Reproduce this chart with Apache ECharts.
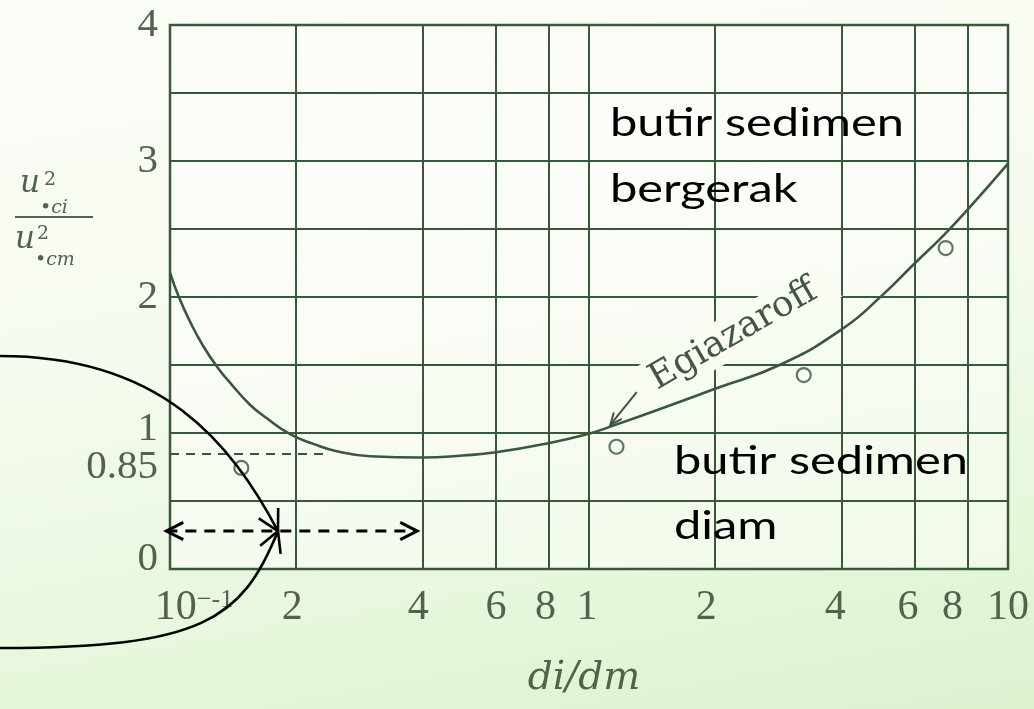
<!DOCTYPE html>
<html>
<head>
<meta charset="utf-8">
<script src="https://cdn.jsdelivr.net/npm/echarts@6/dist/echarts.min.js"></script>
<style>
  html, body { margin: 0; padding: 0; width: 1034px; height: 709px; overflow: hidden; }
  body { background: linear-gradient(170deg, #fbfdf7 0%, #f6fbf0 40%, #e8f7dd 75%, #dcf2cf 100%); }
  #chart { width: 1034px; height: 709px; }
</style>
</head>
<body>
<div id="chart"></div>
<script>
// Egiazaroff curve: u*ci^2 / u*cm^2 against di/dm
const curveX = [0.1, 0.105, 0.112, 0.12, 0.13, 0.14, 0.155, 0.17, 0.193, 0.22, 0.25, 0.3, 0.4, 0.5, 0.6, 0.8, 1.0, 1.12, 1.6, 2.0, 2.85, 4.0, 5.0, 6.0, 7.0, 8.0, 10];
const curveY = [2.18, 2.0, 1.81, 1.64, 1.48, 1.36, 1.21, 1.11, 0.993, 0.92, 0.866, 0.829, 0.82, 0.835, 0.858, 0.925, 0.995, 1.045, 1.215, 1.325, 1.5, 1.76, 2.01, 2.25, 2.45, 2.64, 2.98];

// measured points (open circles)
const obsX = [0.148, 1.163, 3.255, 7.1];
const obsY = [0.743, 0.899, 1.426, 2.36];

// axis ticks
const xTickValues = [0.1, 0.2, 0.4, 0.6, 0.8, 1, 2, 4, 6, 8, 10];
const xTickLabels = ['10|-1', '2', '4', '6', '8', '1', '2', '4', '6', '8', '10'];
const yTickValues = [0, 0.85, 1, 2, 3, 4];
const yTickLabels = ['0', '0.85', '1', '2', '3', '4'];
const yGridValues = [0.5, 1, 1.5, 2, 2.5, 3, 3.5];

// critical level and its guide
const refLevel = 0.85;
const refEndX = 0.237;

// zone labels and the range arrow
const upperZone = ['butir sedimen', 'bergerak'];
const lowerZone = ['butir sedimen', 'diam'];
const curveName = 'Egiazaroff';
const rangeY = 0.279;
const rangeLeftX = 0.098;
const rangeMidX = 0.181;
const rangeRightX = 0.389;

const INK = '#3b573b';
const LBL = '#52634c';
const SERIF = '"Liberation Serif", serif';

// small horizontal nudges (px) for the printed tick numbers
const TICK_NUDGE = { 0: 48, 1: -8, 2: -8, 4: -6, 5: -4, 6: -18, 7: -12, 8: -14, 9: -30, 10: 0 };

const chart = echarts.init(document.getElementById('chart'), null, { renderer: 'canvas' });

function xLabelItem(v, i) {
  const t = xTickLabels[i];
  const n = TICK_NUDGE[i] || 0;
  const pad = n > 0 ? '{pl' + i + '|}' : '';
  const padR = n < 0 ? '{pr' + i + '|}' : '';
  let body;
  if (t.indexOf('|') >= 0) {
    const parts = t.split('|');
    body = '{b|' + parts[0] + '}{s|\u2212' + parts[1] + '}';
  } else {
    body = '{b|' + t + '}';
  }
  return [
    { coord: [v, 0], label: { show: true, formatter: pad + body + padR } },
    { coord: [v, 4] }
  ];
}

const tickRich = {
  b: { fontFamily: SERIF, fontSize: 42, color: LBL },
  s: { fontFamily: SERIF, fontSize: 26, color: LBL, verticalAlign: 'top', padding: [0, 0, 14, 0] }
};
Object.keys(TICK_NUDGE).forEach(k => {
  const n = TICK_NUDGE[k];
  if (n > 0) tickRich['pl' + k] = { width: n };
  if (n < 0) tickRich['pr' + k] = { width: -n };
});

const markData = [];
xTickValues.forEach((v, i) => markData.push(xLabelItem(v, i)));
yGridValues.forEach(v => markData.push([{ coord: [0.1, v], label: { show: false } }, { coord: [10, v] }]));
markData.push([
  { coord: [0.1, refLevel], label: { show: false }, lineStyle: { type: [9, 7], width: 2, color: INK } },
  { coord: [refEndX, refLevel] }
]);

const option = {
  animation: false,
  grid: { left: 170, right: 26, top: 25, bottom: 140, show: true, borderColor: INK, borderWidth: 2.5, backgroundColor: 'rgba(255,255,255,0.45)' },
  xAxis: {
    type: 'log', logBase: 10, min: 0.1, max: 10,
    axisLine: { show: false }, axisTick: { show: false }, axisLabel: { show: false },
    splitLine: { show: false }, minorTick: { show: false }, minorSplitLine: { show: false },
    name: 'di/dm', nameLocation: 'middle', nameGap: 90,
    nameTextStyle: { fontFamily: '"DejaVu Serif", serif', fontStyle: 'italic', fontSize: 39, color: LBL, padding: [0, 10, 0, 0] }
  },
  yAxis: {
    type: 'value', min: 0, max: 4,
    axisLine: { show: false }, axisTick: { show: false }, splitLine: { show: false },
    axisLabel: {
      customValues: yTickValues,
      margin: 12,
      fontFamily: SERIF, fontSize: 41, color: LBL,
      formatter: function (v) {
        const idx = yTickValues.findIndex(t => Math.abs(t - v) < 1e-9);
        const s = idx >= 0 ? yTickLabels[idx] : String(v);
        if (v === 0) return '{lo|' + s + '}';
        if (Math.abs(v - refLevel) < 1e-9) return '{dn|' + s + '}';
        if (v === 1) return '{up|' + s + '}';
        return '{n|' + s + '}';
      },
      rich: {
        n: { fontFamily: SERIF, fontSize: 41, color: LBL },
        lo: { fontFamily: SERIF, fontSize: 41, color: LBL, padding: [0, 0, 20, 0] },
        up: { fontFamily: SERIF, fontSize: 41, color: LBL, padding: [0, 0, 8, 0] },
        dn: { fontFamily: SERIF, fontSize: 41, color: LBL, padding: [28, 0, 0, 0] }
      }
    }
  },
  series: [
    {
      type: 'scatter',
      z: 2,
      data: obsX.map((x, i) => [x, obsY[i]]),
      symbol: 'circle', symbolSize: 14,
      itemStyle: { color: 'rgba(0,0,0,0)', borderColor: INK, borderWidth: 2.2 },
      silent: true,
      markLine: {
        silent: true, animation: false, symbol: 'none',
        lineStyle: { color: INK, width: 2, type: 'solid' },
        label: { show: false, position: 'start', distance: 18, rich: tickRich },
        emphasis: { disabled: true },
        data: markData
      }
    },
    {
      type: 'line',
      name: curveName,
      z: 3,
      data: curveX.map((x, i) => [x, curveY[i]]),
      smooth: 0.5,
      showSymbol: false,
      silent: true,
      lineStyle: { color: INK, width: 2.6 }
    }
  ]
};

chart.setOption(option);

// ---- annotations ----
const px = p => chart.convertToPixel({ gridIndex: 0 }, p);

function head(tip, ux, uy, len, ang) {
  const bx = -ux, by = -uy;
  const c = Math.cos(ang), s = Math.sin(ang);
  return [
    [tip[0] + len * (bx * c - by * s), tip[1] + len * (bx * s + by * c)],
    [tip[0], tip[1]],
    [tip[0] + len * (bx * c + by * s), tip[1] + len * (-bx * s + by * c)]
  ];
}
function unit(a, b) {
  const dx = b[0] - a[0], dy = b[1] - a[1];
  const l = Math.hypot(dx, dy);
  return [dx / l, dy / l];
}
function measure(str, font) {
  const ctx = document.createElement('canvas').getContext('2d');
  ctx.font = font;
  return ctx.measureText(str).width;
}

const els = [];

// y-axis title: u*ci^2 / u*cm^2
const titleFont = 'italic 31px "DejaVu Serif", serif';
const subFont = 'italic 19px "DejaVu Serif", serif';
const supFont = '19px "DejaVu Serif", serif';
const tcol = LBL;
els.push(
  { type: 'text', x: 20, y: 199, z: 20, style: { text: 'u', font: titleFont, fill: tcol, verticalAlign: 'bottom' } },
  { type: 'text', x: 44, y: 190, z: 20, style: { text: '2', font: supFont, fill: tcol, verticalAlign: 'bottom' } },
  { type: 'text', x: 40, y: 218, z: 20, style: { text: '\u2022ci', font: subFont, fill: tcol, verticalAlign: 'bottom' } },
  { type: 'line', z: 20, shape: { x1: 15, y1: 217, x2: 93, y2: 217 }, style: { stroke: tcol, lineWidth: 2 } },
  { type: 'text', x: 15, y: 255, z: 20, style: { text: 'u', font: titleFont, fill: tcol, verticalAlign: 'bottom' } },
  { type: 'text', x: 37, y: 244, z: 20, style: { text: '2', font: supFont, fill: tcol, verticalAlign: 'bottom' } },
  { type: 'text', x: 35, y: 270, z: 20, style: { text: '\u2022cm', font: subFont, fill: tcol, verticalAlign: 'bottom' } }
);

// curve name along the curve, with a pointer to it
const lab = px([2.21, 1.72]);
els.push({
  type: 'text', x: lab[0], y: lab[1], rotation: Math.PI / 6, z: 15,
  style: {
    text: curveName, font: '36px "DejaVu Serif", serif', fill: '#435740',
    align: 'center', verticalAlign: 'middle',
    backgroundColor: '#f8fcf3', padding: [3, 20, 3, 20]
  }
});
const pa = px([1.30, 1.30]);
const pb = px([1.124, 1.059]);
const du = unit(pa, pb);
els.push(
  { type: 'line', z: 15, shape: { x1: pa[0], y1: pa[1], x2: pb[0], y2: pb[1] }, style: { stroke: INK, lineWidth: 2 } },
  { type: 'polyline', z: 15, shape: { points: head(pb, du[0], du[1], 13, 0.4) }, style: { stroke: INK, lineWidth: 2, fill: null } }
);

// zone labels
const zoneFontSize = 39;
const zoneFont = zoneFontSize + 'px Lato, "Open Sans", sans-serif';
const zoneScale = 294 / measure(upperZone[0], zoneFont);
function zoneText(x, baseline, str) {
  return {
    type: 'text', x: x, y: baseline, scaleX: zoneScale, z: 20,
    style: { text: str, font: zoneFont, fill: '#000', verticalAlign: 'bottom' }
  };
}
els.push(zoneText(610, 143, upperZone[0]), zoneText(610, 209, upperZone[1]));
els.push(zoneText(674, 481, lowerZone[0]), zoneText(674, 546, lowerZone[1]));

// dashed range arrow along the bottom
const rl = px([rangeLeftX, rangeY]);
const rr = px([rangeRightX, rangeY]);
els.push(
  { type: 'line', z: 20, shape: { x1: rl[0], y1: rl[1], x2: rr[0], y2: rr[1] }, style: { stroke: '#000', lineWidth: 3, lineDash: [11, 8] } },
  { type: 'polyline', z: 20, shape: { points: head(rl, -1, 0, 19, 0.47) }, style: { stroke: '#000', lineWidth: 3, fill: null } },
  { type: 'polyline', z: 20, shape: { points: head(rr, 1, 0, 19, 0.47) }, style: { stroke: '#000', lineWidth: 3, fill: null } }
);

// two curved pointers meeting on the range arrow
const tip = px([rangeMidX, rangeY]);
const up = { x1: 0, y1: tip[1] - 175, cpx1: tip[0] - 116, cpy1: tip[1] - 175, cpx2: tip[0] - 47, cpy2: tip[1] - 88, x2: tip[0], y2: tip[1] };
const lo = { x1: 0, y1: tip[1] + 117, cpx1: tip[0] - 76, cpy1: tip[1] + 117, cpx2: tip[0] - 36, cpy2: tip[1] + 89, x2: tip[0], y2: tip[1] };
[up, lo].forEach(b => {
  els.push({ type: 'bezierCurve', z: 20, shape: b, style: { stroke: '#000', lineWidth: 2.6, fill: null } });
  const d = unit([b.cpx2, b.cpy2], [b.x2, b.y2]);
  els.push({ type: 'polyline', z: 20, shape: { points: head(tip, d[0], d[1], 23, 0.5) }, style: { stroke: '#000', lineWidth: 2.6, fill: null } });
});

chart.setOption({ graphic: { elements: els } });
</script>
</body>
</html>
